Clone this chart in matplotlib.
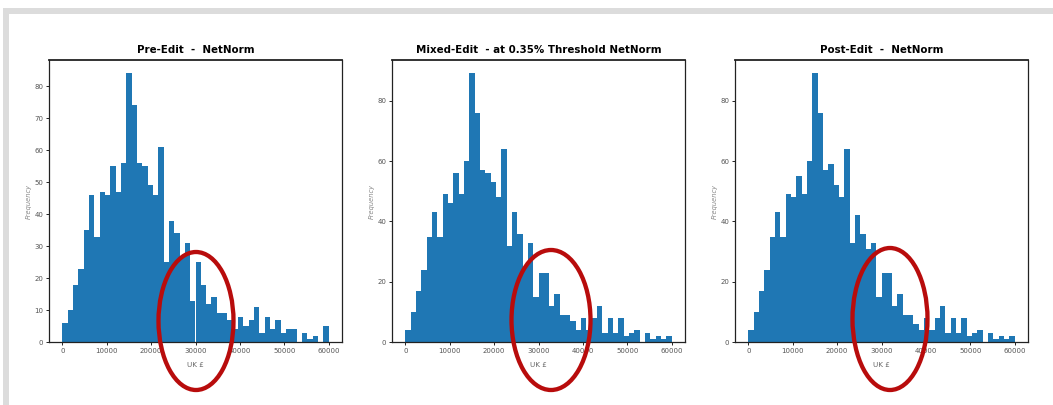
import numpy as np
import matplotlib
matplotlib.use("Agg")
import matplotlib.pyplot as plt
from matplotlib.patches import Ellipse, Rectangle
from matplotlib.ticker import MultipleLocator

# 50 equal bins of net income, 0 - 60000 UK pounds
bin_edges = np.linspace(0, 60000, 51)

pre_counts = [6, 10, 18, 23, 35, 46, 33, 47, 46, 55, 47, 56, 84, 74, 56, 55, 49, 46, 61, 25,
              38, 34, 27, 31, 13, 25, 18, 12, 14, 9, 9, 7, 4, 8, 5, 7, 11, 3, 8, 4,
              7, 3, 4, 4, 0, 3, 1, 2, 0, 5]
mixed_counts = [4, 10, 17, 24, 35, 43, 35, 49, 46, 56, 49, 60, 89, 76, 57, 56, 53, 48, 64, 32,
                43, 36, 25, 33, 15, 23, 23, 12, 16, 9, 9, 7, 4, 8, 4, 8, 12, 3, 8, 3,
                8, 2, 3, 4, 0, 3, 1, 2, 1, 2]
post_counts = [4, 10, 17, 24, 35, 43, 35, 49, 48, 55, 49, 60, 89, 76, 57, 59, 52, 48, 64, 33,
               42, 36, 31, 33, 15, 23, 23, 12, 16, 9, 9, 6, 4, 8, 4, 8, 12, 3, 8, 3,
               8, 2, 3, 4, 0, 3, 1, 2, 1, 2]

titles = ["Pre-Edit  -  NetNorm",
          "Mixed-Edit  - at 0.35% Threshold NetNorm",
          "Post-Edit  -  NetNorm"]
x_ticks = [0, 10000, 20000, 30000, 40000, 50000, 60000]

W, H = 1053, 405
fig = plt.figure(figsize=(W / 100, H / 100), dpi=100)

# light grey frame round the figure
fig.add_artist(Rectangle((3 / W, 1 - 14 / H), 1 - 3 / W, 6 / H, transform=fig.transFigure,
                         color="#dcdcdc", lw=0))
fig.add_artist(Rectangle((3 / W, 0), 6 / W, 1 - 8 / H, transform=fig.transFigure,
                         color="#dcdcdc", lw=0))

lefts = [49, 392, 735]
ax_w, ax_top, ax_bot = 293, 60, 342.3
centres = bin_edges[:-1] + np.diff(bin_edges) / 2

for i, (counts, title) in enumerate(zip([pre_counts, mixed_counts, post_counts], titles)):
    ax = fig.add_axes([lefts[i] / W, (H - ax_bot) / H, ax_w / W, (ax_bot - ax_top) / H])
    ax.hist(centres, bins=bin_edges, weights=counts, color="#1f77b4")
    ax.set_title(title, fontsize=7.4, fontweight="bold", pad=5)
    ax.set_xticks(x_ticks)
    ax.yaxis.set_major_locator(MultipleLocator(10 if i == 0 else 20))
    ax.tick_params(labelsize=5, labelcolor="#555555", length=2, width=0.6, pad=2)
    ax.set_xlabel("UK £", fontsize=5.2, color="#666666", labelpad=6)
    ax.set_ylabel("Frequency", fontsize=4.8, color="#888888", labelpad=2, style="italic")
    for s in ax.spines.values():
        s.set_color("#222222")
        s.set_linewidth(0.9)
    ax.spines["top"].set_linewidth(1.3)

# red rings drawn over the tail of each distribution
rings = [(196, 321, 75, 138), (551, 320, 79, 140), (890, 319, 75, 142)]
for cx, cy, rw, rh in rings:
    fig.add_artist(Ellipse((cx / W, 1 - cy / H), rw / W, rh / H, transform=fig.transFigure,
                           fill=False, edgecolor="#b80c0c", linewidth=3.1))

fig.savefig("out.png", dpi=100)
